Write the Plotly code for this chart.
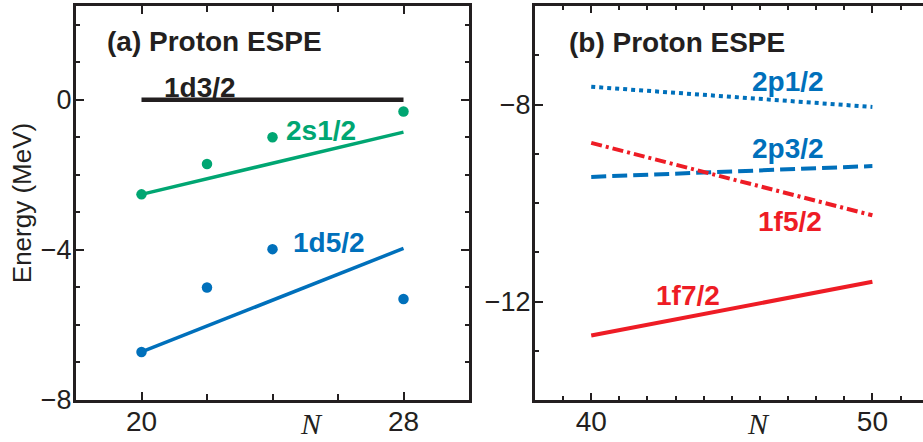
import plotly.graph_objects as go

# ---- panel (a): N = 20..28 ----
n_a_pts = [20, 22, 24, 28]
e_2s12_pts = [-2.52, -1.71, -1.00, -0.31]
e_1d52_pts = [-6.72, -5.00, -3.98, -5.31]

n_a_line = [20, 28]
e_1d32_line = [0.0, 0.0]
e_2s12_line = [-2.52, -0.86]
e_1d52_line = [-6.72, -3.96]

# ---- panel (b): N = 40..50 ----
n_b_line = [40, 50]
e_2p12 = [-7.64, -8.05]
e_2p32 = [-9.47, -9.25]
e_1f52 = [-8.78, -10.25]
e_1f72 = [-12.69, -11.60]

BLACK = "#231f20"
GREEN = "#00a672"
BLUE = "#0070bb"
RED = "#ee1c25"
SANS = "Liberation Sans, Arial, Helvetica, sans-serif"
SERIF = "Liberation Serif, Times New Roman, serif"

fig = go.Figure()

# panel (a) lines
fig.add_trace(go.Scatter(x=n_a_line, y=e_1d32_line, mode="lines",
                         line=dict(color=BLACK, width=4.5), xaxis="x", yaxis="y"))
fig.add_trace(go.Scatter(x=n_a_line, y=e_2s12_line, mode="lines",
                         line=dict(color=GREEN, width=3.5), xaxis="x", yaxis="y"))
fig.add_trace(go.Scatter(x=n_a_line, y=e_1d52_line, mode="lines",
                         line=dict(color=BLUE, width=3.5), xaxis="x", yaxis="y"))
# panel (a) points
fig.add_trace(go.Scatter(x=n_a_pts, y=e_2s12_pts, mode="markers",
                         marker=dict(color=GREEN, size=10.5), xaxis="x", yaxis="y"))
fig.add_trace(go.Scatter(x=n_a_pts, y=e_1d52_pts, mode="markers",
                         marker=dict(color=BLUE, size=10.5), xaxis="x", yaxis="y"))

# panel (b) lines
fig.add_trace(go.Scatter(x=n_b_line, y=e_2p12, mode="lines",
                         line=dict(color=BLUE, width=4, dash="4px,4px"), xaxis="x2", yaxis="y2"))
fig.add_trace(go.Scatter(x=n_b_line, y=e_2p32, mode="lines",
                         line=dict(color=BLUE, width=4, dash="15px,6px"), xaxis="x2", yaxis="y2"))
fig.add_trace(go.Scatter(x=n_b_line, y=e_1f52, mode="lines",
                         line=dict(color=RED, width=4, dash="11px,4px,3px,4px"), xaxis="x2", yaxis="y2"))
fig.add_trace(go.Scatter(x=n_b_line, y=e_1f72, mode="lines",
                         line=dict(color=RED, width=4), xaxis="x2", yaxis="y2"))

W, H = 923, 442
y_dom = [42 / H, 436 / H]

axis_common = dict(
    showline=True, linewidth=3, linecolor=BLACK,
    ticks="inside", tickwidth=2, tickcolor=BLACK,
    showgrid=False, zeroline=False, automargin=False,
)

fig.update_layout(
    width=W, height=H,
    margin=dict(l=0, r=0, t=0, b=0),
    paper_bgcolor="white", plot_bgcolor="white",
    showlegend=False,
    xaxis=dict(
        **axis_common, domain=[76 / W, 469 / W], range=[18, 30],
        tickvals=[20, 28], ticklen=8, mirror="ticks", anchor="y",
        ticklabelstandoff=-6,
        tickfont=dict(family=SANS, size=28, color=BLACK),
        minor=dict(dtick=2, tick0=20, ticks="inside", ticklen=6, tickwidth=2, tickcolor=BLACK),
    ),
    yaxis=dict(
        **axis_common, domain=y_dom, range=[-8, 2.5],
        tick0=0, dtick=4, ticklen=8, mirror="ticks", anchor="x",
        ticklabelstandoff=-4,
        tickfont=dict(family=SANS, size=27, color=BLACK),
        minor=dict(dtick=1, tick0=0, ticks="inside", ticklen=4, tickwidth=2, tickcolor=BLACK),
        title=dict(text="Energy (MeV)", font=dict(family=SANS, size=26, color=BLACK), standoff=2),
    ),
    xaxis2=dict(
        **axis_common, domain=[535 / W, 1.0], range=[38, 51.8],
        tickvals=[40, 50], ticklen=7, mirror="ticks", anchor="y2",
        ticklabelstandoff=-6,
        tickfont=dict(family=SANS, size=28, color=BLACK),
        minor=dict(dtick=1, tick0=40, ticks="inside", ticklen=4, tickwidth=2, tickcolor=BLACK),
    ),
    yaxis2=dict(
        **axis_common, domain=y_dom, range=[-14, -6],
        tick0=-8, dtick=4, ticklen=8, mirror=False, anchor="x2",
        ticklabelstandoff=-4,
        tickfont=dict(family=SANS, size=27, color=BLACK),
        minor=dict(dtick=1, tick0=-8, ticks="inside", ticklen=4, tickwidth=2, tickcolor=BLACK),
    ),
)

def label(text, x, y, color, xref, yref, size=28):
    fig.add_annotation(text=text, x=x, y=y, xref=xref, yref=yref, showarrow=False,
                       xanchor="center", yanchor="middle",
                       font=dict(family=SANS, size=size, color=color))

# panel titles
fig.add_annotation(text="<b>(a) Proton ESPE</b>", x=105 / W, y=1 - 41 / H, xref="paper", yref="paper",
                   xanchor="left", yanchor="middle", showarrow=False,
                   font=dict(family=SANS, size=28, color=BLACK))
fig.add_annotation(text="<b>(b) Proton ESPE</b>", x=567 / W, y=1 - 42 / H, xref="paper", yref="paper",
                   xanchor="left", yanchor="middle", showarrow=False,
                   font=dict(family=SANS, size=28, color=BLACK))

# level labels, panel (a)
label("<b>1d3/2</b>", 21.78, 0.32, BLACK, "x", "y")
label("<b>2s1/2</b>", 25.47, -0.83, GREEN, "x", "y")
label("<b>1d5/2</b>", 25.73, -3.81, BLUE, "x", "y")

# level labels, panel (b)
label("<b>2p1/2</b>", 47.0, -7.53, BLUE, "x2", "y2")
label("<b>2p3/2</b>", 47.0, -8.89, BLUE, "x2", "y2")
label("<b>1f5/2</b>", 47.06, -10.37, RED, "x2", "y2")
label("<b>1f7/2</b>", 43.45, -11.87, RED, "x2", "y2")

# N axis labels, sitting on the bottom edge of the figure
for xv, xr in [(25.2, "x"), (45.95, "x2")]:
    fig.add_annotation(text="<i>N</i>", x=xv, y=0, xref=xr, yref="paper",
                       xanchor="center", yanchor="bottom", showarrow=False,
                       font=dict(family=SERIF, size=30, color=BLACK))

fig.write_html("out.html")
